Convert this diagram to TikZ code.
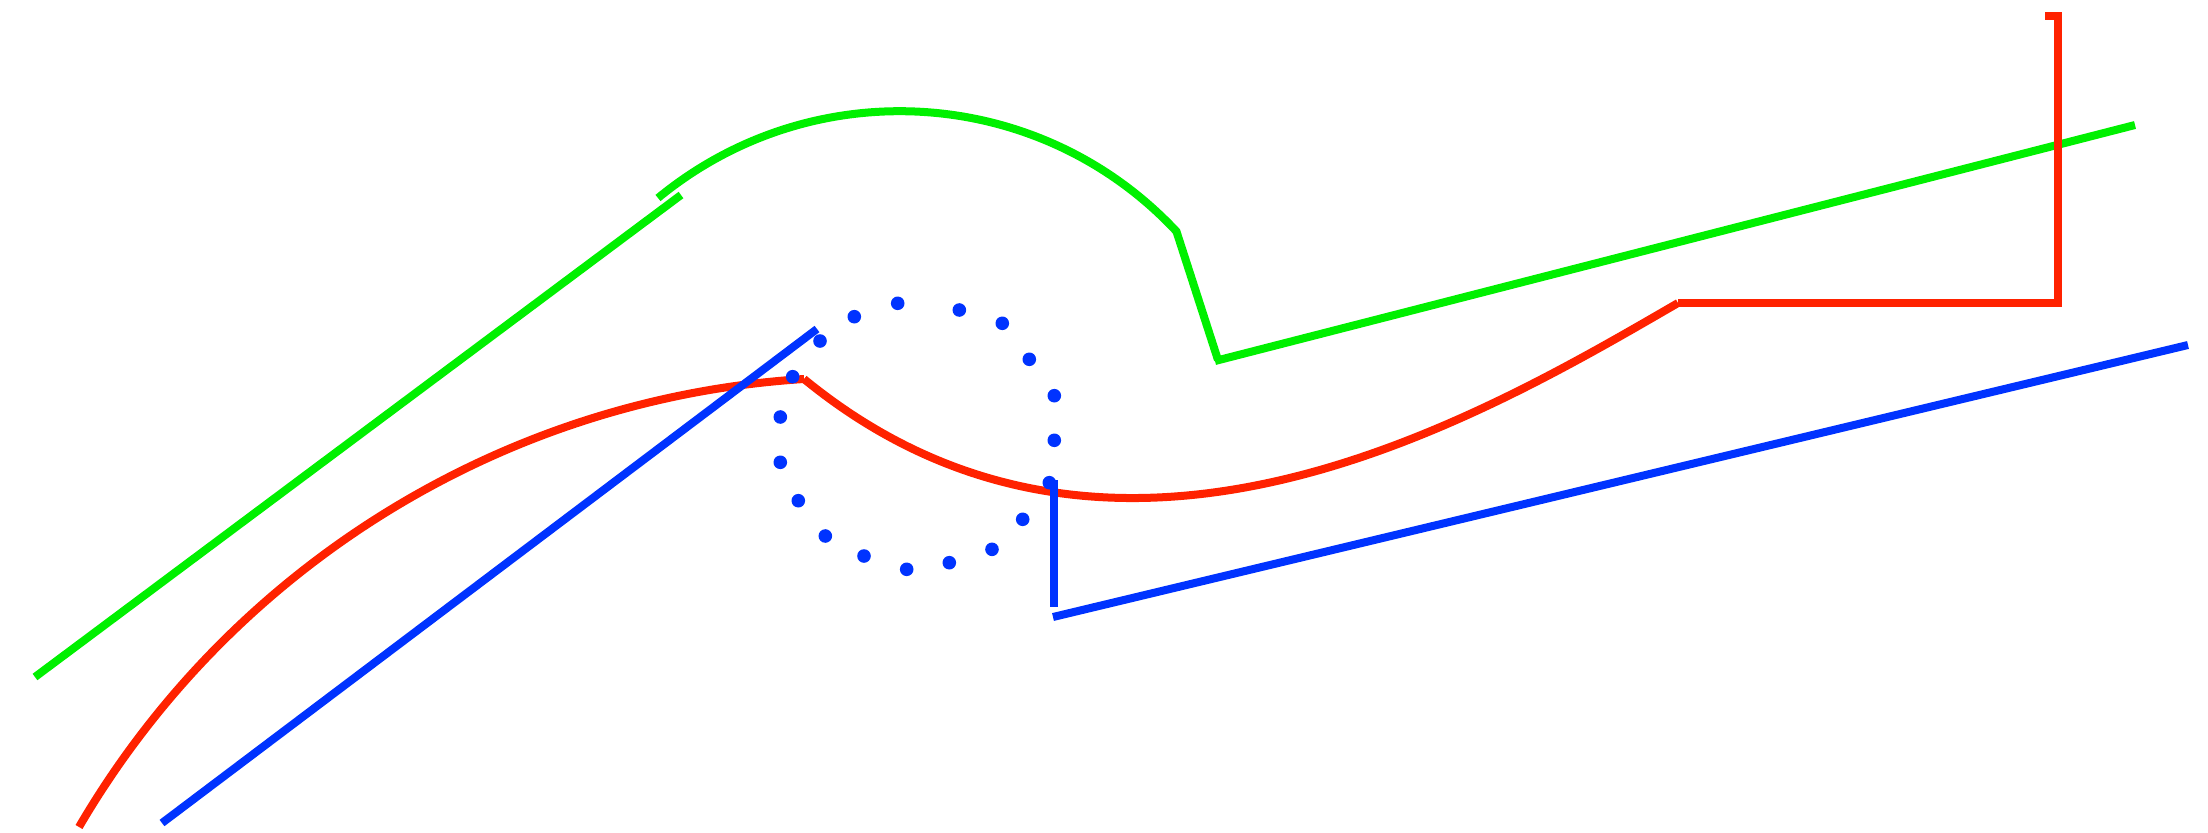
\documentclass[tikz,border=0pt]{standalone}
\definecolor{lred}{RGB}{255,34,0}
\definecolor{lgreen}{RGB}{0,240,0}
\definecolor{lblue}{RGB}{0,51,255}
\begin{document}
\begin{tikzpicture}[x=0.01cm,y=-0.01cm,line width=0.08cm,line cap=butt,line join=miter,
  gline/.style={draw=lgreen},
  rline/.style={draw=lred},
  bline/.style={draw=lblue},
  bdot/.style={fill=lblue}]
\useasboundingbox (0,0) rectangle (2208,833);
% green
\coordinate (g0) at (35,677);
\coordinate (g1) at (681,195);
\coordinate (g2) at (658,198);
\coordinate (g3) at (1177,232);
\coordinate (g4) at (1218,360);
\coordinate (g5) at (2135,125);
\draw[gline] (g0) -- (g1);
\draw[gline] (g2) .. controls (813.6,70) and (1040.8,85.4) .. (g3);
\draw[gline] (1176,230) -- (g4);
\draw[gline] (1215,361) -- (g5);
% red
\coordinate (r0) at (79,827);
\coordinate (r1) at (804,379);
\coordinate (r2) at (1678,303);
\coordinate (r3) at (2058,303);
\coordinate (r4) at (2058,16);
\coordinate (r5) at (2045,16);
\draw[rline] (r0) .. controls (231,567) and (503,398) .. (r1);
\draw[rline] (r1) .. controls (1114,633) and (1478,419) .. (r2);
\draw[rline] (r2) -- (r3) -- (r4) -- (r5);
% blue
\coordinate (b0) at (162,823);
\coordinate (b1) at (817,329);
\coordinate (b2) at (1054,480);
\coordinate (b3) at (1054,607);
\coordinate (b4) at (1053,617);
\coordinate (b5) at (2188,345);
\draw[bline] (b0) -- (b1);
\draw[bline] (b2) -- (b3);
\draw[bline] (b4) -- (b5);
% dotted circle
\foreach \p in {(854.3,316.7),(897.7,303.3),(959.3,310),(1002.3,323.3),(1029.3,359.3),
  (1054.3,395.7),(1054.3,440.3),(1049.3,482.7),(1022.7,519.3),(992,549.3),(949.3,562.7),
  (906.7,569.3),(864,556),(825.3,536),(798.3,500.7),(780.3,462.3),(780.3,417),(792.7,376.7),(820,341)}
  {\fill[bdot] \p circle[radius=0.068cm];}
\end{tikzpicture}
\end{document}
